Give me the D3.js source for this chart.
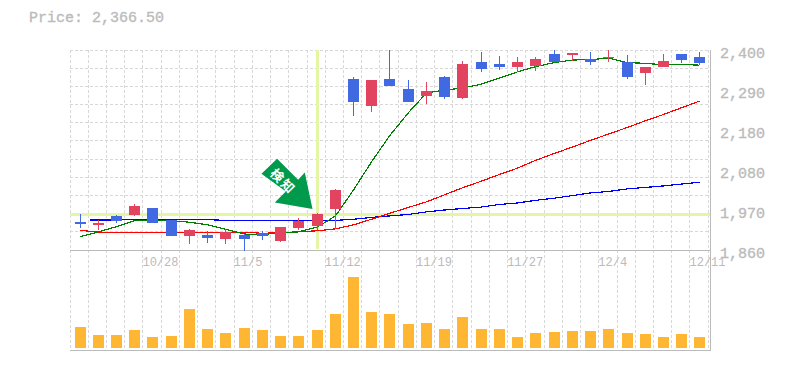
<!DOCTYPE html>
<html>
<head>
<meta charset="utf-8">
<script src="https://cdn.jsdelivr.net/npm/d3@7"></script>
<style>
html, body { margin: 0; padding: 0; background: #fff; }
svg { display: block; }
text { font-family: "Liberation Mono", monospace; fill: #bbb; }
</style>
</head>
<body>
<svg id="chart" width="785" height="370"></svg>
<script>
// daily candles, oldest first
var opens  = [1936,1928,1952,1955,1973,1941,1898,1901,1890,1901,1906,1884,1919,1925,1971,2322,2249,2322,2295,2276,2327,2270,2368,2362,2354,2357,2389,2387,2376,2378,2368,2338,2354,2389,2381];
var highs  = [1957,1941,1955,1984,1973,1941,1917,1911,1917,1903,1911,1922,1946,1960,2025,2327,2319,2400,2319,2314,2330,2370,2395,2384,2381,2381,2400,2392,2395,2400,2387,2354,2389,2389,2395];
var lows   = [1919,1914,1933,1952,1933,1898,1876,1879,1876,1857,1887,1882,1914,1914,1917,2222,2233,2303,2260,2254,2268,2268,2341,2346,2341,2343,2368,2370,2360,2368,2322,2306,2354,2365,2360];
var closes = [1930,1933,1938,1979,1933,1898,1914,1892,1909,1890,1898,1922,1938,1957,2022,2260,2319,2303,2260,2289,2273,2362,2349,2354,2368,2376,2368,2392,2368,2381,2327,2354,2370,2373,2365];

// moving averages
var ma_short = [1896,1909,1923,1939,1941,1939,1935,1928,1916,1903,1902,1906,1909,1922,1952,2022,2098,2168,2231,2284,2292,2297,2308,2324,2341,2355,2366,2373,2374,2378,2366,2364,2360,2361,2359];
var ma_mid   = [1913,1908,1908,1908,1908,1908,1908,1908,1908,1908,1905,1907,1909,1912,1917,1928,1943,1959,1975,1990,2009,2028,2046,2064,2081,2102,2121,2138,2156,2173,2191,2209,2226,2244,2262];
var ma_long  = [1941,1941,1941,1942,1941,1941,1942,1942,1940,1940,1940,1940,1940,1940,1940,1943,1948,1952,1956,1963,1968,1972,1976,1983,1987,1994,2000,2007,2014,2018,2025,2029,2033,2038,2043];

var volumes = [21,13,13,18,11,12,39,19,15,20,18,12,12,18,34,71,36,34,24,25,19,31,19,19,11,15,16,17,17,19,15,14,11,14,11];

var price_ticks = [2400,2292,2184,2076,1968,1860];
var price_labels = ['2,400','2,290','2,180','2,080','1,970','1,860'];
var date_ticks = [4,9,14,19,24,29,34];
var date_labels = ['10/28','11/5','11/12','11/19','11/27','12/4','12/11'];

var signal_index = 13; // the day the arrow points at
var price_text = 'Price: 2,366.50';

var left = 70, right = 710;
var top_pad = 50, price_bottom = 250, vol_bottom = 350;
var count = opens.length;

var svg = d3.select('#chart');

// index of the day -> left edge of its slot
var x_scale = d3.scaleLinear()
    .domain([0, count])
    .range([left, 708.225]);

var y_price = d3.scaleLinear()
    .domain([1860, 2400])
    .range([price_bottom, top_pad]);

var y_vol = d3.scaleLinear()
    .domain([0, d3.max(volumes)])
    .range([348, 277]);

function slot(i) { return Math.floor(x_scale(i)); }
function center(i) { return slot(i) + 10.5; }

// grid
var grid = svg.append('g')
    .attr('stroke', '#d8d8d8')
    .attr('stroke-dasharray', '3,2')
    .attr('shape-rendering', 'crispEdges');

grid.selectAll('line.v')
    .data(d3.range(count + 1))
    .enter().append('line')
    .attr('class', 'v')
    .attr('x1', function(d) { return slot(d) + 0.5; })
    .attr('x2', function(d) { return slot(d) + 0.5; })
    .attr('y1', top_pad)
    .attr('y2', vol_bottom);

grid.selectAll('line.h')
    .data(d3.range(1, 12))
    .enter().append('line')
    .attr('class', 'h')
    .attr('x1', left)
    .attr('x2', right)
    .attr('y1', function(d) { return Math.floor(y_price(1860 + d * 540 / 11)) + 0.5; })
    .attr('y2', function(d) { return Math.floor(y_price(1860 + d * 540 / 11)) + 0.5; });

// crosshair on the signal day
var cross_x = center(signal_index);
var cross_y = y_price(closes[signal_index]);

svg.append('line')
    .attr('x1', left).attr('x2', right)
    .attr('y1', cross_y + 0.5).attr('y2', cross_y + 0.5)
    .attr('stroke', '#e4f5a5')
    .attr('stroke-width', 3)
    .attr('shape-rendering', 'crispEdges');

svg.append('line')
    .attr('x1', cross_x).attr('x2', cross_x)
    .attr('y1', top_pad).attr('y2', price_bottom - 1)
    .attr('stroke', '#e4f5a5')
    .attr('stroke-width', 3)
    .attr('shape-rendering', 'crispEdges');

// axis frame
var frame = [
    [left, price_bottom + 0.5, right, price_bottom + 0.5],
    [left, vol_bottom + 0.5, right + 1, vol_bottom + 0.5],
    [right + 0.5, top_pad, right + 0.5, vol_bottom]
];
svg.selectAll('line.frame')
    .data(frame)
    .enter().append('line')
    .attr('class', 'frame')
    .attr('x1', function(d) { return d[0]; })
    .attr('y1', function(d) { return d[1]; })
    .attr('x2', function(d) { return d[2]; })
    .attr('y2', function(d) { return d[3]; })
    .attr('stroke', '#bbb')
    .attr('shape-rendering', 'crispEdges');

// volume bars
svg.selectAll('rect.vol')
    .data(volumes)
    .enter().append('rect')
    .attr('class', 'vol')
    .attr('x', function(d, i) { return slot(i) + 5; })
    .attr('width', 11)
    .attr('y', function(d) { return Math.round(y_vol(d)); })
    .attr('height', function(d) { return 348 - Math.round(y_vol(d)); })
    .attr('fill', '#ffb733');

// moving average lines
function drawLine(values, color, start) {
    var line = d3.line()
        .x(function(d, i) { return (i == 0 && start) ? center(start) : center(i); })
        .y(function(d) { return y_price(d); });
    svg.append('path')
        .attr('d', line(values))
        .attr('fill', 'none')
        .attr('stroke', color)
        .attr('stroke-width', 1.2)
        .attr('shape-rendering', 'crispEdges');
}
drawLine(ma_long, '#00f', 0.5); // this one starts half a slot late
drawLine(ma_mid, '#f00');
drawLine(ma_short, '#008000');

// candles
var up_color = '#e2435e', down_color = '#4169e1';
function candleColor(i) { return closes[i] >= opens[i] ? up_color : down_color; }

var candles = svg.selectAll('g.candle')
    .data(d3.range(count))
    .enter().append('g')
    .attr('class', 'candle')
    .attr('shape-rendering', 'crispEdges');

candles.append('line')
    .attr('x1', function(i) { return center(i); })
    .attr('x2', function(i) { return center(i); })
    .attr('y1', function(i) { return Math.round(y_price(highs[i])); })
    .attr('y2', function(i) { return Math.round(y_price(lows[i])); })
    .attr('stroke', candleColor);

candles.append('rect')
    .attr('x', function(i) { return slot(i) + 5; })
    .attr('width', 11)
    .attr('y', function(i) { return Math.round(y_price(Math.max(opens[i], closes[i]))); })
    .attr('height', function(i) {
        return Math.max(1, Math.round(y_price(Math.min(opens[i], closes[i]))) - Math.round(y_price(Math.max(opens[i], closes[i]))));
    })
    .attr('fill', candleColor);

// arrow, anchored just up and left of the signal candle
var arrow = svg.append('g')
    .attr('transform', 'translate(' + (cross_x - 5) + ',' + (cross_y - 5) + ')');

arrow.append('polygon')
    .attr('points', '0,0 -37.7,-6.6 -26.7,-17.6 -51,-35.3 -35.4,-50.3 -14.4,-29.3 -7.7,-36.6')
    .attr('fill', '#009a4c');

arrow.append('text')
    .attr('transform', 'translate(-29,-28) rotate(45)')
    .attr('text-anchor', 'middle')
    .attr('dy', '0.4em')
    .style('font-family', '"Noto Sans CJK JP"')
    .style('font-size', '13px')
    .style('font-weight', 'bold')
    .style('fill', '#fff')
    .style('letter-spacing', '2px')
    .text('検知');

// axes
var y_axis = d3.axisRight(y_price)
    .tickValues(price_ticks)
    .tickFormat(function(d, i) { return price_labels[i]; })
    .tickSize(0)
    .tickPadding(0);

svg.append('g')
    .attr('transform', 'translate(720,0)')
    .call(y_axis)
    .call(function(g) { g.select('.domain').remove(); })
    .selectAll('text')
    .attr('dy', 8)
    .attr('y', -0.5)
    .style('font-size', '15px')
    .style('font-family', '"Liberation Mono", monospace')
    .style('fill', '#bbb')
    .style('stroke', '#bbb')
    .style('stroke-width', 0.35);

var x_axis = d3.axisBottom(x_scale)
    .tickValues(date_ticks)
    .tickFormat(function(d, i) { return date_labels[i]; })
    .tickSize(0)
    .tickPadding(0);

svg.append('g')
    .attr('transform', 'translate(0,' + price_bottom + ')')
    .call(x_axis)
    .call(function(g) { g.select('.domain').remove(); })
    .selectAll('text')
    .attr('text-anchor', 'start')
    .attr('x', -1)
    .attr('y', 16)
    .attr('dy', 0)
    .style('font-size', '12px')
    .style('font-family', '"Liberation Mono", monospace')
    .style('fill', '#bbb');

// price readout
svg.append('text')
    .attr('x', 29)
    .attr('y', 22)
    .style('font-size', '15px')
    .style('stroke', '#bbb')
    .style('stroke-width', 0.35)
    .text(price_text);
</script>
</body>
</html>
